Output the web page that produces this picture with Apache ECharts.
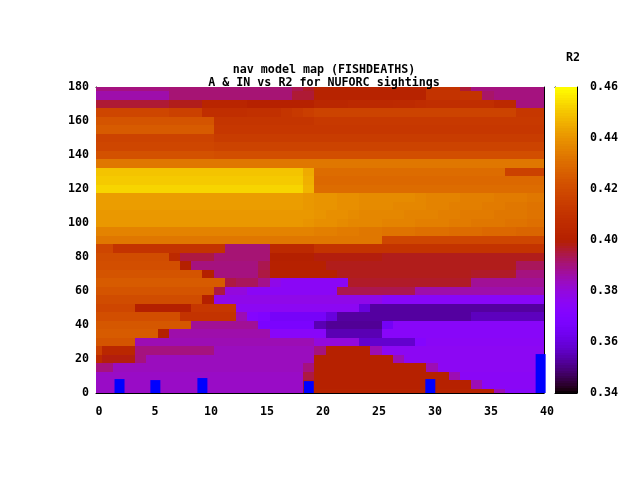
<!DOCTYPE html>
<html><head><meta charset="utf-8">
<script src="https://cdn.jsdelivr.net/npm/echarts@6/dist/echarts.min.js"></script>
<style>html,body{margin:0;padding:0;background:#fff}#c{width:640px;height:480px}</style>
</head><body><div id="c"></div>
<script>
// R2 in thousandths, one row per IN value (top to bottom), one entry per A value 0..40
const aValues = Array.from({length:41},(_,i)=>i);
const inValues = [180,175,170,165,160,155,150,145,140,135,130,125,120,115,110,105,100,95,90,85,80,75,70,65,60,55,50,45,40,35,30,25,20,15,10,5,0];
const r2Rows = [
[390,390,390,390,390, 390,390,391,391,391, 391,391,391,391,391, 391,391,391,394,397, 402,402,402,402,402, 402,402,402,402,402, 410,410,410,396,390, 390,390,390,390,390, 390],
[386,386,386,386,386, 386,386,391,391,391, 391,391,391,391,391, 391,391,391,396,396, 402,402,402,402,402, 402,402,402,402,402, 410,410,410,410,410, 392,390,390,390,390, 390],
[396,396,396,396,396, 396,396,398,398,398, 403,403,403,403,401, 401,401,401,401,401, 404,404,404,405,405, 405,405,406,406,407, 408,408,408,408,408, 408,405,405,390,390, 390],
[418,418,418,418,418, 418,418,416,416,416, 408,408,408,408,409, 409,409,411,413,415, 417,417,417,417,417, 417,417,417,417,417, 417,417,417,417,417, 417,417,417,412,412, 412],
[423,423,423,423,423, 423,423,423,423,423, 423,411,411,411,411, 411,411,411,411,411, 413,413,413,413,413, 413,413,413,413,413, 413,413,413,413,413, 413,413,413,413,413, 413],
[425,425,425,425,425, 425,425,425,425,425, 425,412,412,412,412, 412,412,412,412,412, 412,412,412,412,412, 412,412,412,412,412, 412,412,412,412,412, 412,412,412,412,412, 412],
[417,417,417,417,417, 417,417,417,417,417, 417,414,414,414,414, 414,414,414,414,414, 414,414,414,414,414, 414,414,414,414,414, 414,414,414,414,414, 414,414,414,414,414, 414],
[418,418,418,418,418, 418,418,418,418,418, 418,417,417,417,417, 417,417,417,417,417, 417,417,417,417,417, 417,417,417,417,417, 417,417,417,417,417, 417,417,417,417,417, 417],
[422,422,422,422,422, 422,422,422,422,422, 422,421,421,421,421, 421,421,421,421,421, 421,421,421,421,421, 421,421,421,421,421, 421,421,421,421,421, 421,421,421,421,421, 421],
[433,433,433,433,433, 433,433,433,433,433, 433,433,433,433,433, 433,433,433,433,433, 433,433,433,433,433, 433,433,433,433,433, 433,433,433,433,433, 433,433,433,433,433, 433],
[450,450,450,450,450, 450,450,450,450,450, 450,450,450,450,450, 450,450,450,450,445, 430,430,430,430,430, 430,430,430,430,430, 430,430,430,430,430, 430,430,416,416,416, 416],
[451,451,451,451,451, 451,451,451,451,451, 451,451,451,451,451, 451,451,451,451,446, 429,429,429,429,429, 429,429,429,429,429, 429,429,429,429,429, 429,429,429,429,429, 429],
[453,453,453,453,453, 453,453,453,453,453, 453,453,453,453,453, 453,453,453,453,447, 430,430,430,430,430, 430,430,430,430,430, 430,430,430,430,430, 430,430,430,430,430, 430],
[442,442,442,442,442, 442,442,442,442,442, 442,442,442,442,442, 442,442,442,442,441, 440,440,439,439,438, 438,438,438,438,437, 436,436,436,435,435, 435,434,434,434,433, 433],
[442,442,442,442,442, 442,442,442,442,442, 442,442,442,442,442, 442,442,442,442,441, 440,440,439,439,438, 438,438,437,437,437, 436,436,435,435,435, 434,434,433,433,432, 432],
[441,441,441,441,441, 441,441,441,441,441, 441,441,441,441,441, 441,441,441,441,441, 440,439,439,438,437, 437,437,437,436,436, 436,435,435,434,434, 434,433,433,433,432, 432],
[441,441,441,441,441, 441,441,441,441,441, 441,441,441,441,441, 441,441,441,441,440, 439,439,438,437,437, 437,436,436,436,435, 435,435,434,434,433, 433,433,432,432,431, 431],
[436,436,436,436,436, 436,436,436,436,436, 436,436,436,436,436, 436,436,436,436,436, 435,435,434,434,433, 433,432,432,432,431, 431,431,430,430,430, 429,429,429,428,428, 428],
[433,433,433,433,433, 433,433,433,433,433, 433,433,433,433,433, 433,433,433,433,433, 433,433,433,433,433, 433,418,418,418,418, 418,418,418,418,418, 418,418,418,418,418, 418],
[418,418,410,410,410, 410,410,410,410,410, 410,410,391,391,391, 391,405,405,405,405, 410,410,410,410,410, 410,410,410,410,410, 410,410,410,410,410, 410,410,410,410,410, 410],
[420,420,420,420,420, 420,420,405,395,395, 395,391,391,391,391, 391,400,400,400,400, 399,399,399,399,399, 399,398,398,398,398, 398,398,398,398,398, 398,398,398,398,398, 398],
[421,421,421,421,421, 421,421,421,400,390, 390,390,390,390,390, 394,401,401,401,401, 401,398,398,398,398, 398,398,398,398,398, 398,398,398,398,398, 398,398,398,393,393, 393],
[423,423,423,423,423, 423,423,423,423,423, 400,390,390,390,390, 395,401,401,401,401, 401,401,398,398,398, 398,398,398,398,398, 398,398,398,398,397, 397,397,397,390,390, 390],
[425,425,425,425,425, 425,425,425,425,425, 425,425,395,393,393, 389,378,375,375,375, 375,375,375,397,397, 397,397,397,397,397, 397,397,397,397,388, 388,388,388,388,388, 388],
[423,423,423,423,423, 423,423,423,423,423, 423,395,380,380,375, 375,375,375,375,375, 375,375,394,394,394, 394,394,394,394,386, 386,386,386,386,386, 386,386,386,386,386, 386],
[420,420,420,420,420, 420,420,420,420,420, 400,378,378,378,378, 378,378,378,378,378, 378,378,378,378,378, 378,374,374,374,374, 374,374,374,374,374, 374,374,374,374,374, 374],
[418,418,418,418,400, 400,400,400,400,412, 412,412,412,376,376, 376,376,376,376,376, 376,376,376,376,360, 353,353,353,353,353, 353,353,353,353,353, 353,353,353,353,353, 353],
[421,421,421,421,421, 421,421,421,410,410, 410,410,410,385,372, 370,366,366,366,366, 366,360,353,353,353, 353,353,353,353,353, 353,353,353,353,356, 356,356,356,356,356, 356],
[424,424,424,424,424, 424,424,424,424,388, 388,388,388,388,388, 368,368,368,368,368, 355,352,352,352,352, 352,365,374,374,374, 374,374,374,374,374, 374,374,374,374,374, 374],
[425,425,425,425,425, 425,400,386,386,386, 386,386,386,386,386, 386,374,374,374,374, 374,355,355,355,355, 355,374,374,374,374, 374,374,374,374,374, 374,374,374,374,374, 374],
[423,423,423,423,385, 385,385,385,385,385, 385,385,385,385,385, 385,385,385,385,385, 380,380,380,380,358, 358,358,358,358,372, 375,375,375,375,375, 375,375,375,375,375, 375],
[415,404,404,404,390, 390,390,390,390,390, 390,384,384,384,384, 384,384,384,384,384, 390,401,401,401,401, 385,376,376,376,376, 376,376,376,376,376, 376,376,376,376,376, 376],
[405,399,399,399,390, 384,384,384,384,384, 384,384,384,384,384, 384,384,384,384,384, 401,401,401,401,401, 401,401,385,376,376, 376,376,376,376,376, 376,376,376,376,376, 376],
[390,390,384,384,384, 384,384,384,384,384, 384,384,384,384,384, 384,384,384,384,390, 401,401,401,401,401, 401,401,401,401,401, 385,376,376,376,376, 376,376,376,376,376, 376],
[383,383,383,383,383, 383,383,383,383,383, 383,383,383,383,383, 383,383,383,383,395, 401,401,401,401,401, 401,401,401,401,401, 401,401,385,375,375, 375,375,375,375,375, 375],
[383,383,383,383,383, 383,383,383,383,383, 383,383,383,383,383, 383,383,383,383,398, 401,401,401,401,401, 401,401,401,401,401, 401,401,401,401,385, 375,375,375,375,375, 375],
[383,383,383,383,383, 383,383,383,383,383, 383,383,383,383,383, 383,383,383,383,400, 402,402,402,402,402, 402,402,402,402,402, 402,402,402,402,402, 402,385,374,374,374, 374]
];
const barA = [2.1,5.3,9.5,19,29.85,39.7];
const barHeight = [8.2,7.6,8.8,7,8.2,22.9];
const xTicks = {min:0,max:40,interval:5};
const yTicks = {min:0,max:180,interval:20};
const cbTicks = {min:0.34,max:0.46,interval:0.02};
const title1 = "nav model map (FISHDEATHS)";
const title2 = "A & IN vs R2 for NUFORC sightings";
const cbTitle = "R2";

// gnuplot default palette (rgbformulae 7,5,15)
const palette = [];
for (let i=0;i<=120;i++){
  const t=i/120;
  const r=Math.sqrt(t), g=t*t*t, b=Math.max(0,Math.sin(2*Math.PI*t));
  palette.push('rgb('+Math.round(r*255)+','+Math.round(g*255)+','+Math.round(b*255)+')');
}
const cells=[];
r2Rows.forEach((row,j)=>row.forEach((v,i)=>cells.push([aValues[i],inValues[j],v/1000])));
const cbLevels=[];
for(let k=340;k<460;k++)cbLevels.push([0,k/1000,(k+0.5)/1000]);

const font={fontFamily:'"DejaVu Sans Mono",monospace',fontWeight:'bold',fontSize:11.67,color:'#000'};
const line={lineStyle:{color:'#000',width:1}};
function cellItem(dx,dy){
  return function(params,api){
    const x=api.value(0),y=api.value(1);
    const a=api.coord([x-dx,y+dy]),b=api.coord([x+dx,y-dy]);
    const x0=Math.round(a[0]),y0=Math.round(a[1]),x1=Math.round(b[0]),y1=Math.round(b[1]);
    const s=params.coordSys;
    const cl=Math.max(x0,s.x),cr=Math.min(x1,s.x+s.width),ct=Math.max(y0,s.y),cb=Math.min(y1,s.y+s.height);
    return {type:'rect',shape:{x:cl,y:ct,width:cr-cl,height:cb-ct},style:{fill:api.visual('color')}};
  };
}
const chart=echarts.init(document.getElementById('c'),null,{renderer:'canvas'});
chart.setOption({
  animation:false,backgroundColor:'#fff',
  title:[
    {text:title1+"\n"+title2,left:319,top:58,textAlign:'center',textStyle:Object.assign({},font,{lineHeight:13})},
    {text:cbTitle,left:568,top:46,textAlign:'center',textStyle:Object.assign({},font,{lineHeight:13})}
  ],
  grid:[
    {left:96,top:87,width:448,height:306,containLabel:false},
    {left:555,top:87,width:22,height:306,containLabel:false}
  ],
  visualMap:{show:false,type:'continuous',min:cbTicks.min,max:cbTicks.max,dimension:2,seriesIndex:[0,1],inRange:{color:palette}},
  xAxis:[
    Object.assign({type:'value',gridIndex:0,position:'bottom',splitLine:{show:false},axisLine:Object.assign({show:true,onZero:false},line),axisTick:Object.assign({show:true,inside:true,length:6},line),axisLabel:Object.assign({show:true,margin:13,padding:[0,0,0,6],showMinLabel:true,showMaxLabel:true},font)},xTicks),
    Object.assign({type:'value',gridIndex:0,position:'top',splitLine:{show:false},axisLine:Object.assign({show:true,onZero:false},line),axisTick:Object.assign({show:true,inside:true,length:6},line),axisLabel:{show:false}},xTicks),
    {type:'value',gridIndex:1,position:'bottom',min:0,max:1,splitLine:{show:false},axisLine:Object.assign({show:true,onZero:false},line),axisTick:{show:false},axisLabel:{show:false}},
    {type:'value',gridIndex:1,position:'top',min:0,max:1,splitLine:{show:false},axisLine:Object.assign({show:true,onZero:false},line),axisTick:{show:false},axisLabel:{show:false}}
  ],
  yAxis:[
    Object.assign({type:'value',gridIndex:0,position:'left',splitLine:{show:false},axisLine:Object.assign({show:true,onZero:false},line),axisTick:Object.assign({show:true,inside:true,length:6},line),axisLabel:Object.assign({show:true,margin:7,padding:[4,0,0,0],showMinLabel:true,showMaxLabel:true},font)},yTicks),
    Object.assign({type:'value',gridIndex:0,position:'right',splitLine:{show:false},axisLine:Object.assign({show:true,onZero:false},line),axisTick:Object.assign({show:true,inside:true,length:6},line),axisLabel:{show:false}},yTicks),
    Object.assign({type:'value',gridIndex:1,position:'left',splitLine:{show:false},axisLine:Object.assign({show:true,onZero:false},line),axisTick:Object.assign({show:true,inside:true,length:5},line),axisLabel:{show:false}},cbTicks),
    Object.assign({type:'value',gridIndex:1,position:'right',splitLine:{show:false},axisLine:Object.assign({show:true,onZero:false},line),axisTick:Object.assign({show:true,inside:true,length:5},line),axisLabel:Object.assign({show:true,margin:13,padding:[4,0,0,0],formatter:v=>v.toFixed(2),showMinLabel:true,showMaxLabel:true},font)},cbTicks)
  ],
  series:[
    {name:'R2',type:'custom',xAxisIndex:0,yAxisIndex:0,data:cells,encode:{x:0,y:1},renderItem:cellItem(0.5,2.5),silent:true,z:1},
    {name:'colorbar',type:'custom',xAxisIndex:2,yAxisIndex:2,data:cbLevels,encode:{x:0,y:1},silent:true,z:1,
     renderItem:function(params,api){
       const y=api.value(1);
       const a=api.coord([0,y+0.001]),b=api.coord([1,y]);
       return {type:'rect',shape:{x:a[0],y:Math.floor(a[1]),width:b[0]-a[0],height:Math.ceil(b[1])-Math.floor(a[1])},style:{fill:api.visual('color')}};
     }},
    {name:'bars',type:'bar',xAxisIndex:0,yAxisIndex:0,barWidth:10,clip:false,z:5,itemStyle:{color:'#0000ff'},data:barA.map((a,i)=>[a,barHeight[i]])}
  ]
});
</script></body></html>
